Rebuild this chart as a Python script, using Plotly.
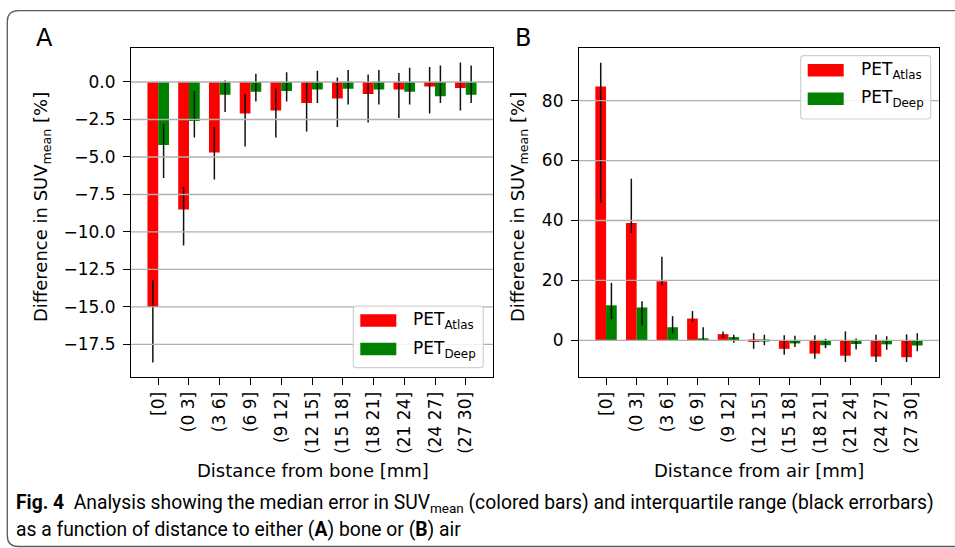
import plotly.graph_objects as go
from plotly.subplots import make_subplots

W, H = 955, 548

categories = ["[0]", "(0 3]", "(3 6]", "(6 9]", "(9 12]", "(12 15]", "(15 18]",
              "(18 21]", "(21 24]", "(24 27]", "(27 30]"]

# Panel A: distance from bone (median, lower quartile, upper quartile) [%]
bone_atlas = [-15.0, -8.5, -4.7, -2.1, -1.9, -1.4, -1.1, -0.8, -0.5, -0.3, -0.4]
bone_atlas_lo = [-18.7, -10.9, -6.5, -4.3, -3.7, -3.3, -3.0, -2.7, -2.4, -2.1, -1.9]
bone_atlas_hi = [-13.2, -7.0, -3.0, -0.8, -0.4, 0.0, 0.3, 0.5, 0.6, 1.0, 1.3]
bone_deep = [-4.2, -2.6, -0.85, -0.65, -0.6, -0.5, -0.45, -0.5, -0.65, -0.95, -0.85]
bone_deep_lo = [-6.4, -3.7, -2.0, -1.3, -1.3, -1.4, -1.5, -1.5, -1.5, -1.4, -1.4]
bone_deep_hi = [-2.8, -0.6, 0.1, 0.55, 0.65, 0.75, 0.8, 0.8, 0.95, 1.1, 1.1]

# Panel B: distance from air
air_atlas = [84.7, 39.2, 19.7, 7.3, 2.1, -0.5, -2.8, -4.4, -5.1, -5.4, -5.6]
air_atlas_lo = [45.9, 35.8, 18.4, 6.1, 0.9, -2.8, -4.8, -6.1, -7.2, -7.2, -7.2]
air_atlas_hi = [92.6, 53.9, 27.9, 9.8, 3.0, 2.4, 1.7, 1.7, 3.0, 1.9, 2.0]
air_deep = [11.7, 11.0, 4.4, 0.7, 1.1, -0.1, -1.0, -1.6, -1.2, -1.3, -1.7]
air_deep_lo = [7.1, 5.0, 2.4, -0.2, -0.8, -1.6, -2.2, -2.6, -3.0, -3.1, -3.6]
air_deep_hi = [19.2, 13.1, 8.1, 4.4, 1.9, 1.9, 1.6, 0.6, 0.6, 1.4, 2.4]

bone_ticks = [0.0, -2.5, -5.0, -7.5, -10.0, -12.5, -15.0, -17.5]
air_ticks = [0, 20, 40, 60, 80]

series_names = ["PET<sub>Atlas</sub>", "PET<sub>Deep</sub>"]
RED, GREEN = "#ff0000", "#008000"
FONT = "DejaVu Sans"


def px(x):
    return x / W


def py(y):
    return 1 - y / H


fig = make_subplots(rows=1, cols=2)


def add_bars(col, vals, lo, hi, color, name):
    fig.add_trace(go.Bar(
        x=categories, y=vals, name=name, marker=dict(color=color, line=dict(width=0)),
        error_y=dict(type="data", symmetric=False,
                     array=[h - v for h, v in zip(hi, vals)],
                     arrayminus=[v - l for v, l in zip(vals, lo)],
                     color="#111111", thickness=1.5, width=0),
        showlegend=False), row=1, col=col)


add_bars(1, bone_atlas, bone_atlas_lo, bone_atlas_hi, RED, series_names[0])
add_bars(1, bone_deep, bone_deep_lo, bone_deep_hi, GREEN, series_names[1])
add_bars(2, air_atlas, air_atlas_lo, air_atlas_hi, RED, series_names[0])
add_bars(2, air_deep, air_deep_lo, air_deep_hi, GREEN, series_names[1])

axis_common = dict(showline=True, linecolor="black", linewidth=1.2, mirror=True,
                   ticks="outside", ticklen=7, tickwidth=1.2, tickcolor="black",
                   tickfont=dict(family=FONT, size=17, color="black"),
                   showgrid=False, zeroline=False)

xdomA = [px(131), px(493)]
xdomB = [px(579), px(939)]
ydom = [py(377), py(47.5)]

fig.update_layout(
    width=W, height=H, margin=dict(l=0, r=0, t=0, b=0),
    paper_bgcolor="white", plot_bgcolor="white",
    barmode="group", bargap=0.3, bargroupgap=0,
    font=dict(family=FONT, color="black"),
    xaxis=dict(domain=xdomA, range=[-0.885, 10.885], tickangle=-90, **axis_common),
    xaxis2=dict(domain=xdomB, range=[-0.885, 10.885], tickangle=-90, **axis_common),
    yaxis=dict(domain=ydom, range=[-19.67, 2.3], tickvals=bone_ticks,
               tickformat=".1f", ticklabelstandoff=4, **axis_common),
    yaxis2=dict(domain=ydom, range=[-12.2, 97.7], tickvals=air_ticks,
                ticklabelstandoff=4, **axis_common),
)

shapes = []
# grid lines (drawn above bars as in the original)
for v in bone_ticks:
    shapes.append(dict(type="line", xref="x domain", yref="y", x0=0, x1=1, y0=v, y1=v,
                       line=dict(color="#b0b0b0", width=1.3), layer="above"))
for v in air_ticks:
    shapes.append(dict(type="line", xref="x2 domain", yref="y2", x0=0, x1=1, y0=v, y1=v,
                       line=dict(color="#b0b0b0", width=1.3), layer="above"))


def rounded_box(x0, y0, x1, y1, r):
    X0, X1 = px(x0), px(x1)
    Y0, Y1 = py(y0), py(y1)
    rx, ry = r / W, r / H
    return (f"M {X0+rx},{Y0} L {X1-rx},{Y0} Q {X1},{Y0} {X1},{Y0-ry} "
            f"L {X1},{Y1+ry} Q {X1},{Y1} {X1-rx},{Y1} L {X0+rx},{Y1} "
            f"Q {X0},{Y1} {X0},{Y1+ry} L {X0},{Y0-ry} Q {X0},{Y0} {X0+rx},{Y0} Z")


def legend(x0, y0, x1, y1):
    shapes.append(dict(type="path", xref="paper", yref="paper", path=rounded_box(x0, y0, x1, y1, 3),
                       fillcolor="rgba(255,255,255,0.85)", line=dict(color="#d0d0d0", width=1.2),
                       layer="above"))
    for i, col in enumerate([RED, GREEN]):
        cy = y0 + 14.5 + i * 28.5
        shapes.append(dict(type="rect", xref="paper", yref="paper",
                           x0=px(x0 + 7), x1=px(x0 + 43), y0=py(cy - 6.2), y1=py(cy + 6.2),
                           fillcolor=col, line=dict(width=0), layer="above"))


legend(353.3, 306, 483.3, 367.7)
legend(800.7, 55.7, 930.7, 119)

# outer rounded figure border
r = 11
x0b, y0b, yb = 7.3, 10.7, 546.5
shapes.append(dict(type="path", xref="paper", yref="paper",
                   path=(f"M {px(W + 5)},{py(y0b)} L {px(x0b + r)},{py(y0b)} "
                         f"Q {px(x0b)},{py(y0b)} {px(x0b)},{py(y0b + r)} "
                         f"L {px(x0b)},{py(yb - r)} Q {px(x0b)},{py(yb)} {px(x0b + r)},{py(yb)} "
                         f"L {px(W + 5)},{py(yb)}"),
                   line=dict(color="#5a5a5a", width=1.3), layer="above"))
fig.update_layout(shapes=shapes)

ann = []


def text(x, y, s, size=16, family=FONT, xanchor="center", yanchor="middle", angle=0):
    ann.append(dict(x=px(x), y=py(y), xref="paper", yref="paper", text=s, showarrow=False,
                    xanchor=xanchor, yanchor=yanchor, textangle=angle,
                    font=dict(family=family, size=size, color="black")))


for (lx, ly) in [(353.3, 306), (800.7, 55.7)]:
    for i, name in enumerate(series_names):
        text(lx + 58, ly + 14.5 + i * 28.5, name, size=17, xanchor="left")

text(44.5, 37.5, "A", size=24)
text(523, 37.5, "B", size=24)
text(42, 207, "Difference in SUV<sub>mean</sub> [%]", size=18, angle=-90)
text(519, 207, "Difference in SUV<sub>mean</sub> [%]", size=18, angle=-90)
text(313, 470, "Distance from bone [mm]", size=18)
text(759, 470, "Distance from air [mm]", size=18)

CAP = "Roboto"
text(14, 503, "<b>Fig. 4</b>  Analysis showing the median error in SUV<sub>mean</sub> (colored bars) "
     "and interquartile range (black errorbars)", size=19.3, family=CAP, xanchor="left")
text(14, 529, "as a function of distance to either (<b>A</b>) bone or (<b>B</b>) air",
     size=19.3, family=CAP, xanchor="left")

fig.update_layout(annotations=ann)

fig.write_html("out.html", config={"displayModeBar": False},
               post_script="document.body.style.margin='0px';"
                           "document.documentElement.style.overflow='hidden';")
